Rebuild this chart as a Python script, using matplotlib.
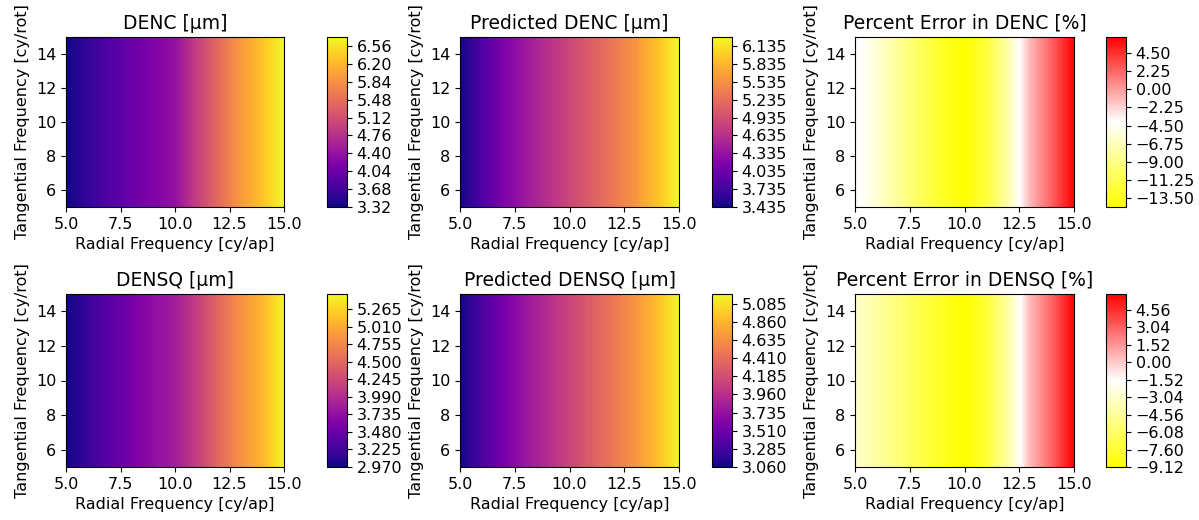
import numpy as np
import matplotlib
matplotlib.use("Agg")
import matplotlib.pyplot as plt
from matplotlib.colors import LinearSegmentedColormap

# Grid (cycles)
radial_freq = [5, 6, 7, 8, 9, 10, 11, 12, 13, 14, 15]
tangential_freq = [5, 15]

# Profiles along radial frequency (constant along tangential frequency)
denc = [3.325, 3.56, 3.80, 4.00, 4.18, 4.38, 4.93, 5.44, 5.92, 6.295, 6.735]
denc_pred = [3.44, 3.805, 4.148, 4.404, 4.632, 4.86, 5.088, 5.316, 5.573, 5.915, 6.28]
denc_err = [-3.5, -5.8, -8.3, -10.8, -13.0, -14.5, -12.0, -7.5, -1.0, 2.5, 6.4]
densq = [2.975, 3.172, 3.373, 3.55, 3.726, 3.852, 4.15, 4.507, 4.835, 5.087, 5.485]
densq_pred = [3.065, 3.317, 3.553, 3.768, 3.94, 4.111, 4.304, 4.476, 4.669, 4.905, 5.195]
densq_err = [-3.0, -4.3, -5.6, -6.9, -8.1, -9.115, -7.5, -4.2, 0.5, 3.0, 5.9]

titles = ["DENC [μm]", "Predicted DENC [μm]", "Percent Error in DENC [%]",
          "DENSQ [μm]", "Predicted DENSQ [μm]", "Percent Error in DENSQ [%]"]
series = [denc, denc_pred, denc_err, densq, densq_pred, densq_err]

err_cmap = LinearSegmentedColormap.from_list("ywr", ["yellow", "white", "red"])
cmaps = ["plasma", "plasma", err_cmap, "plasma", "plasma", err_cmap]

W, H = 1199, 520
fig = plt.figure(figsize=(W / 100, H / 100), dpi=100)

col_ax = [(66, 284), (460, 679), (855, 1074)]
col_cb = [(327, 347), (712, 732), (1106, 1126)]
row_y = [(37, 207), (294, 467)]

X, Y = np.meshgrid(np.array(radial_freq, float), np.array(tangential_freq, float))

FS = 11.5
for i in range(6):
    r, c = divmod(i, 3)
    y0, y1 = row_y[r]
    ax0, ax1 = col_ax[c]
    cb0, cb1 = col_cb[c]
    ax = fig.add_axes([ax0 / W, 1 - y1 / H, (ax1 - ax0) / W, (y1 - y0) / H])
    cax = fig.add_axes([cb0 / W, 1 - y1 / H, (cb1 - cb0) / W, (y1 - y0) / H])
    Z = np.tile(np.array(series[i], float), (len(tangential_freq), 1))
    cs = ax.contourf(X, Y, Z, levels=200, cmap=cmaps[i])
    cb = fig.colorbar(cs, cax=cax)
    cb.ax.tick_params(labelsize=FS)
    ax.set_title(titles[i], fontsize=13.5)
    ax.set_xlabel("Radial Frequency [cy/ap]", fontsize=FS)
    ax.set_ylabel("Tangential Frequency [cy/rot]", fontsize=FS)
    ax.set_xticks([5.0, 7.5, 10.0, 12.5, 15.0])
    ax.set_yticks([6, 8, 10, 12, 14])
    ax.tick_params(labelsize=FS)
    ax.set_xlim(5, 15)
    ax.set_ylim(5, 15)

fig.savefig("out.png", dpi=100)
